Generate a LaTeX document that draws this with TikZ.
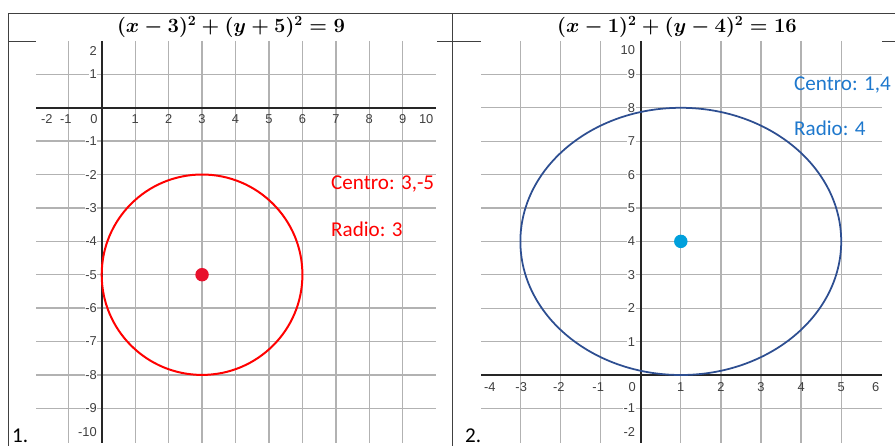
\documentclass[tikz,border=0pt]{standalone}
\usepackage{fontspec}
\setsansfont{Carlito}
\newfontfamily\ticksfont{Liberation Sans}
\usetikzlibrary{calc}

\definecolor{circred}{RGB}{255,0,0}
\definecolor{dotred}{RGB}{232,17,45}
\definecolor{circblue}{RGB}{45,78,145}
\definecolor{dotblue}{RGB}{0,160,220}
\definecolor{noteblue}{RGB}{30,120,205}

\begin{document}
\begin{tikzpicture}[x=0.03cm, y=-0.03cm]
	\tikzstyle {tablerule} = [draw = black!75, line width = 0.8pt];
	\tikzstyle {gridline} = [draw = black!30, line width = 1.1pt];
	\tikzstyle {axisline} = [draw = black!85, line width = 1.5pt];
	\tikzstyle {xtick} = [font = \ticksfont\fontsize{11}{12}\selectfont, text = black!75, inner sep = 0pt];
	\tikzstyle {ytick} = [xtick, anchor = east, fill = white, inner sep = 0.6pt];
	\tikzstyle {note} = [font = \sffamily\fontsize{18}{20}\selectfont, anchor = west, inner sep = 0pt];
	\tikzstyle {heading} = [font = \fontsize{17.5}{20}\selectfont\boldmath, inner sep = 0pt];
	\tikzstyle {centerdot} = [circle, inner sep = 0pt, minimum size = 11.5pt];

	\useasboundingbox (0, 0) rectangle (895, 446);
	% table rules
	\draw[tablerule] (8, 13) -- (895, 13);
	\draw[tablerule] (8, 13) -- (8, 446);
	\draw[tablerule] (452, 13) -- (452, 446);
	\foreach \from/\to in {8/36, 437/452, 452/481, 882/895} {
			\draw[tablerule] (\from, 41) -- (\to, 41);
		}
	\node[heading] (eq1) at (231, 27) {$(x-3)^2+(y+5)^2=9$};
	\node[heading] (eq2) at (677, 27) {$(x-1)^2+(y-4)^2=16$};
	\node[note, anchor = base west] (num1) at (12, 442) {1.};
	\node[note, anchor = base west] (num2) at (465, 442) {2.};

	% graph 1
	\begin{scope}[shift = {(101.7, 107.7)}, x = 1.0035cm, y = 1.002cm]
		\foreach \gx in {-1, 0, ..., 9} {
				\draw[gridline] (\gx, 2) -- (\gx, -10.04);
			}
		\foreach \gy in {-9, -8, ..., 1} {
				\draw[gridline] (-1.96, \gy) -- (10, \gy);
			}
		\draw[axisline] (-1.96, 0) -- (10, 0);
		\draw[axisline] (0, 2) -- (0, -10.04);
		\foreach \lab/\pos [count = \k] in {-2/-1.64, -1/-1.07, 0/-0.23, 1/1, 2/2, 3/3, 4/4, 5/5, 6/6, 7/7, 8/8, 9/9, 10/9.7} {
				\node[xtick] (ax\k) at (\pos, -0.34) {\lab};
			}
		\foreach \lab/\pos [count = \k] in {2/1.7, 1/1, -1/-1, -2/-2, -3/-3, -4/-4, -5/-5, -6/-6, -7/-7, -8/-8, -9/-9, -10/-9.7} {
				\node[ytick] (ay\k) at (-0.12, \pos) {\lab};
			}
		\draw[circred, line width = 1.7pt] (3, -5) circle [radius = 3];
		\node[centerdot, fill = dotred] (c1) at (3, -5) {};
	\end{scope}
	\node[note, text = circred] (centro1) at (331, 184) {Centro: 3,-5};
	\node[note, text = circred] (radio1) at (331, 229) {Radio: 3};

	% graph 2
	\begin{scope}[shift = {(640.7, 375)}, x = 1.203cm, y = 1.002cm]
		\foreach \gx in {-3, -2, ..., 5} {
				\draw[gridline] (\gx, 10) -- (\gx, -2.04);
			}
		\foreach \gy in {-1, 0, ..., 9} {
				\draw[gridline] (-3.98, \gy) -- (6.02, \gy);
			}
		\draw[axisline] (-3.98, 0) -- (6.02, 0);
		\draw[axisline] (0, 10) -- (0, -2.04);
		\foreach \lab/\pos [count = \k] in {-4/-3.76, -3/-2.98, -2/-2.04, -1/-1.06, 0/-0.21, 1/1, 2/2, 3/3, 4/4, 5/5, 6/5.86} {
				\node[xtick] (bx\k) at (\pos, -0.35) {\lab};
			}
		\foreach \lab/\pos [count = \k] in {10/9.73, 9/9, 8/8, 7/7, 6/6, 5/5, 4/4, 3/3, 2/2, 1/1, -1/-1, -2/-1.7} {
				\node[ytick] (by\k) at (-0.12, \pos) {\lab};
			}
		\draw[circblue, line width = 1.5pt] (1, 4) circle [radius = 4];
		\node[centerdot, fill = dotblue] (c2) at (1, 4) {};
	\end{scope}
	\node[note, text = noteblue] (centro2) at (794, 85) {Centro: 1,4};
	\node[note, text = noteblue] (radio2) at (794, 128) {Radio: 4};
\end{tikzpicture}
\end{document}
